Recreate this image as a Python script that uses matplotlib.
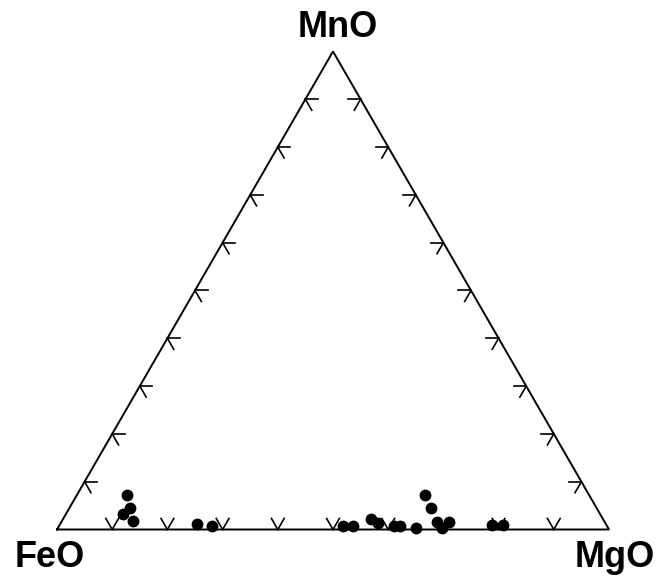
import matplotlib
matplotlib.use("Agg")
import matplotlib.pyplot as plt
import numpy as np

# normalised compositions (%)
mgo = [9.1, 11.0, 10.4, 12.9, 24.7, 27.6, 51.5, 53.2, 55.7, 57.5,
       60.7, 61.8, 64.8, 63.0, 65.5, 68.1, 70.3, 69.5, 78.3, 80.4]
mno = [7.2, 4.6, 3.2, 1.8, 1.2, 0.8, 0.7, 0.7, 2.2, 1.4,
       0.7, 0.7, 0.4, 7.2, 4.4, 1.5, 1.5, 0.4, 0.9, 0.9]
feo = [100 - a - b for a, b in zip(mgo, mno)]

apex_labels = ["FeO", "MgO", "MnO"]
H = np.sqrt(3) / 2


def to_xy(mg, fe, mn):
    mg = np.asarray(mg, float)
    fe = np.asarray(fe, float)
    mn = np.asarray(mn, float)
    tot = mg + fe + mn
    return (mg + mn / 2) / tot, mn / tot * H


fig = plt.figure(figsize=(6.57, 5.77), dpi=100)
ax = fig.add_axes([0, 0, 1, 1])
# pixel layout: FeO corner at (57, 529), side 552 px
scale = 552.0
ax.set_xlim(-57 / scale, 600 / scale)
ax.set_ylim(-47.5 / scale, 529.5 / scale)
ax.axis("off")

# triangle outline
ax.plot([0, 1, 0.5, 0], [0, 0, H, 0], color="black", lw=1.4,
        solid_joinstyle="miter")

# grid tick stubs at every 10 %
L = 0.023
for i in range(1, 10):
    f = i / 10
    # bottom edge
    px, py = f, 0
    for dx, dy in [(-0.5, H), (0.5, H)]:
        ax.plot([px, px + L * dx], [py, py + L * dy], color="black", lw=1.2)
    # left edge
    px, py = f * 0.5, f * H
    for dx, dy in [(1, 0), (0.5, -H)]:
        ax.plot([px, px + L * dx], [py, py + L * dy], color="black", lw=1.2)
    # right edge
    px, py = 1 - f * 0.5, f * H
    for dx, dy in [(-1, 0), (-0.5, -H)]:
        ax.plot([px, px + L * dx], [py, py + L * dy], color="black", lw=1.2)

x, y = to_xy(mgo, feo, mno)
ax.plot(x, y, "o", color="black", markersize=7.5, clip_on=False)

lab = dict(fontsize=26, fontweight="bold", family="Liberation Sans",
           ha="center", va="baseline")
ax.text(-7.5 / scale, -37.5 / scale, apex_labels[0], **lab)
ax.text(1 + 6 / scale, -37.5 / scale, apex_labels[1], **lab)
ax.text(281 / scale, 492.5 / scale, apex_labels[2], **lab)

fig.savefig("out.png", dpi=100)
